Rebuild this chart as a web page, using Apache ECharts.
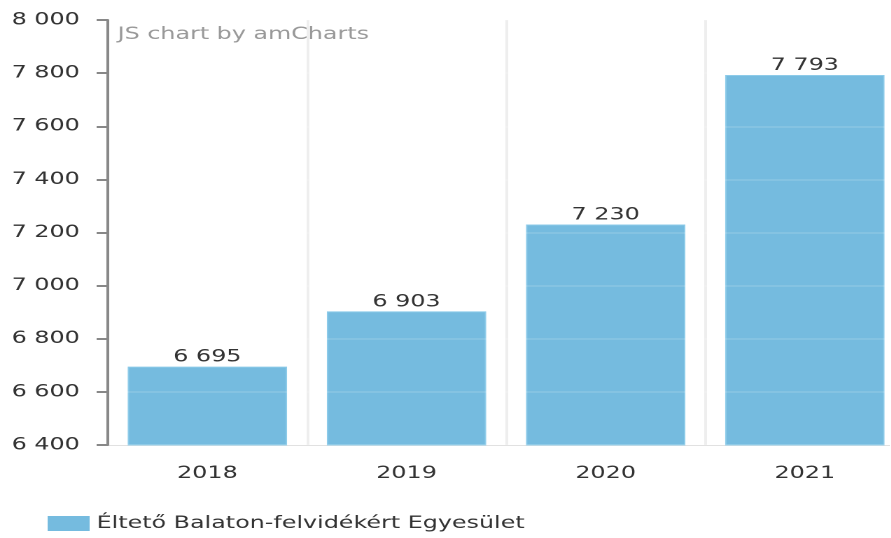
<!DOCTYPE html>
<html>
<head>
<meta charset="utf-8">
<script src="https://cdn.jsdelivr.net/npm/echarts@6/dist/echarts.min.js"></script>
<style>
  html, body { margin: 0; padding: 0; background: #fff; overflow: hidden; }
  /* the original picture is stretched sideways, so draw narrow and widen */
  #chart { width: 636px; height: 538px; transform: scaleX(1.4); transform-origin: 0 0; }
</style>
</head>
<body>
<div id="chart"></div>
<script>
const years = ["2018", "2019", "2020", "2021"];
const members = [6695, 6903, 7230, 7793];
const seriesName = "Éltető Balaton-felvidékért Egyesület";
const yMin = 6400, yMax = 8000, yStep = 200;

// space as thousands separator, like the original
const fmt = v => String(v).replace(/\B(?=(\d{3})+(?!\d))/g, " ");
const font = "DejaVu Sans";

const chart = echarts.init(document.getElementById("chart"), null, { devicePixelRatio: 2 });
chart.setOption({
  animation: false,
  textStyle: { fontFamily: font },
  grid: { left: 77, top: 20, width: 569, height: 425, outerBoundsMode: "none" },
  graphic: [{
    type: "text", left: 84, top: 26,
    style: { text: "JS chart by amCharts", fill: "#999", font: "17px " + font }
  }],
  legend: {
    left: 29, top: 510,
    itemWidth: 30, itemHeight: 15, itemGap: 10,
    icon: "rect",
    itemStyle: { borderWidth: 0 },
    textStyle: { color: "#333", fontSize: 17, fontFamily: font },
    data: [seriesName]
  },
  xAxis: {
    type: "category",
    data: years,
    axisLine: { lineStyle: { color: "#ddd", width: 1 } },
    axisTick: { alignWithLabel: true, length: 5, lineStyle: { color: "#ccc", width: 1 } },
    axisLabel: { color: "#333", fontSize: 17, margin: 20 },
    splitLine: { show: true, lineStyle: { color: "#eee", width: 2 } }
  },
  yAxis: {
    type: "value",
    min: yMin, max: yMax, interval: yStep,
    z: 3,
    axisLine: { show: true, lineStyle: { color: "#888", width: 2 } },
    axisTick: { show: true, length: 8, lineStyle: { color: "#888", width: 2 } },
    axisLabel: { color: "#333", fontSize: 17, margin: 20, formatter: fmt },
    splitLine: { lineStyle: { color: "rgba(255,255,255,0.12)", width: 2 } }
  },
  series: [{
    name: seriesName,
    type: "bar",
    data: members,
    barWidth: "80%",
    itemStyle: { color: "#75bbdf", borderColor: "#8dcbe9", borderWidth: 1 },
    label: {
      show: true, position: "top", distance: 1,
      color: "#333", fontSize: 17, formatter: p => fmt(p.value)
    }
  }]
});
</script>
</body>
</html>
